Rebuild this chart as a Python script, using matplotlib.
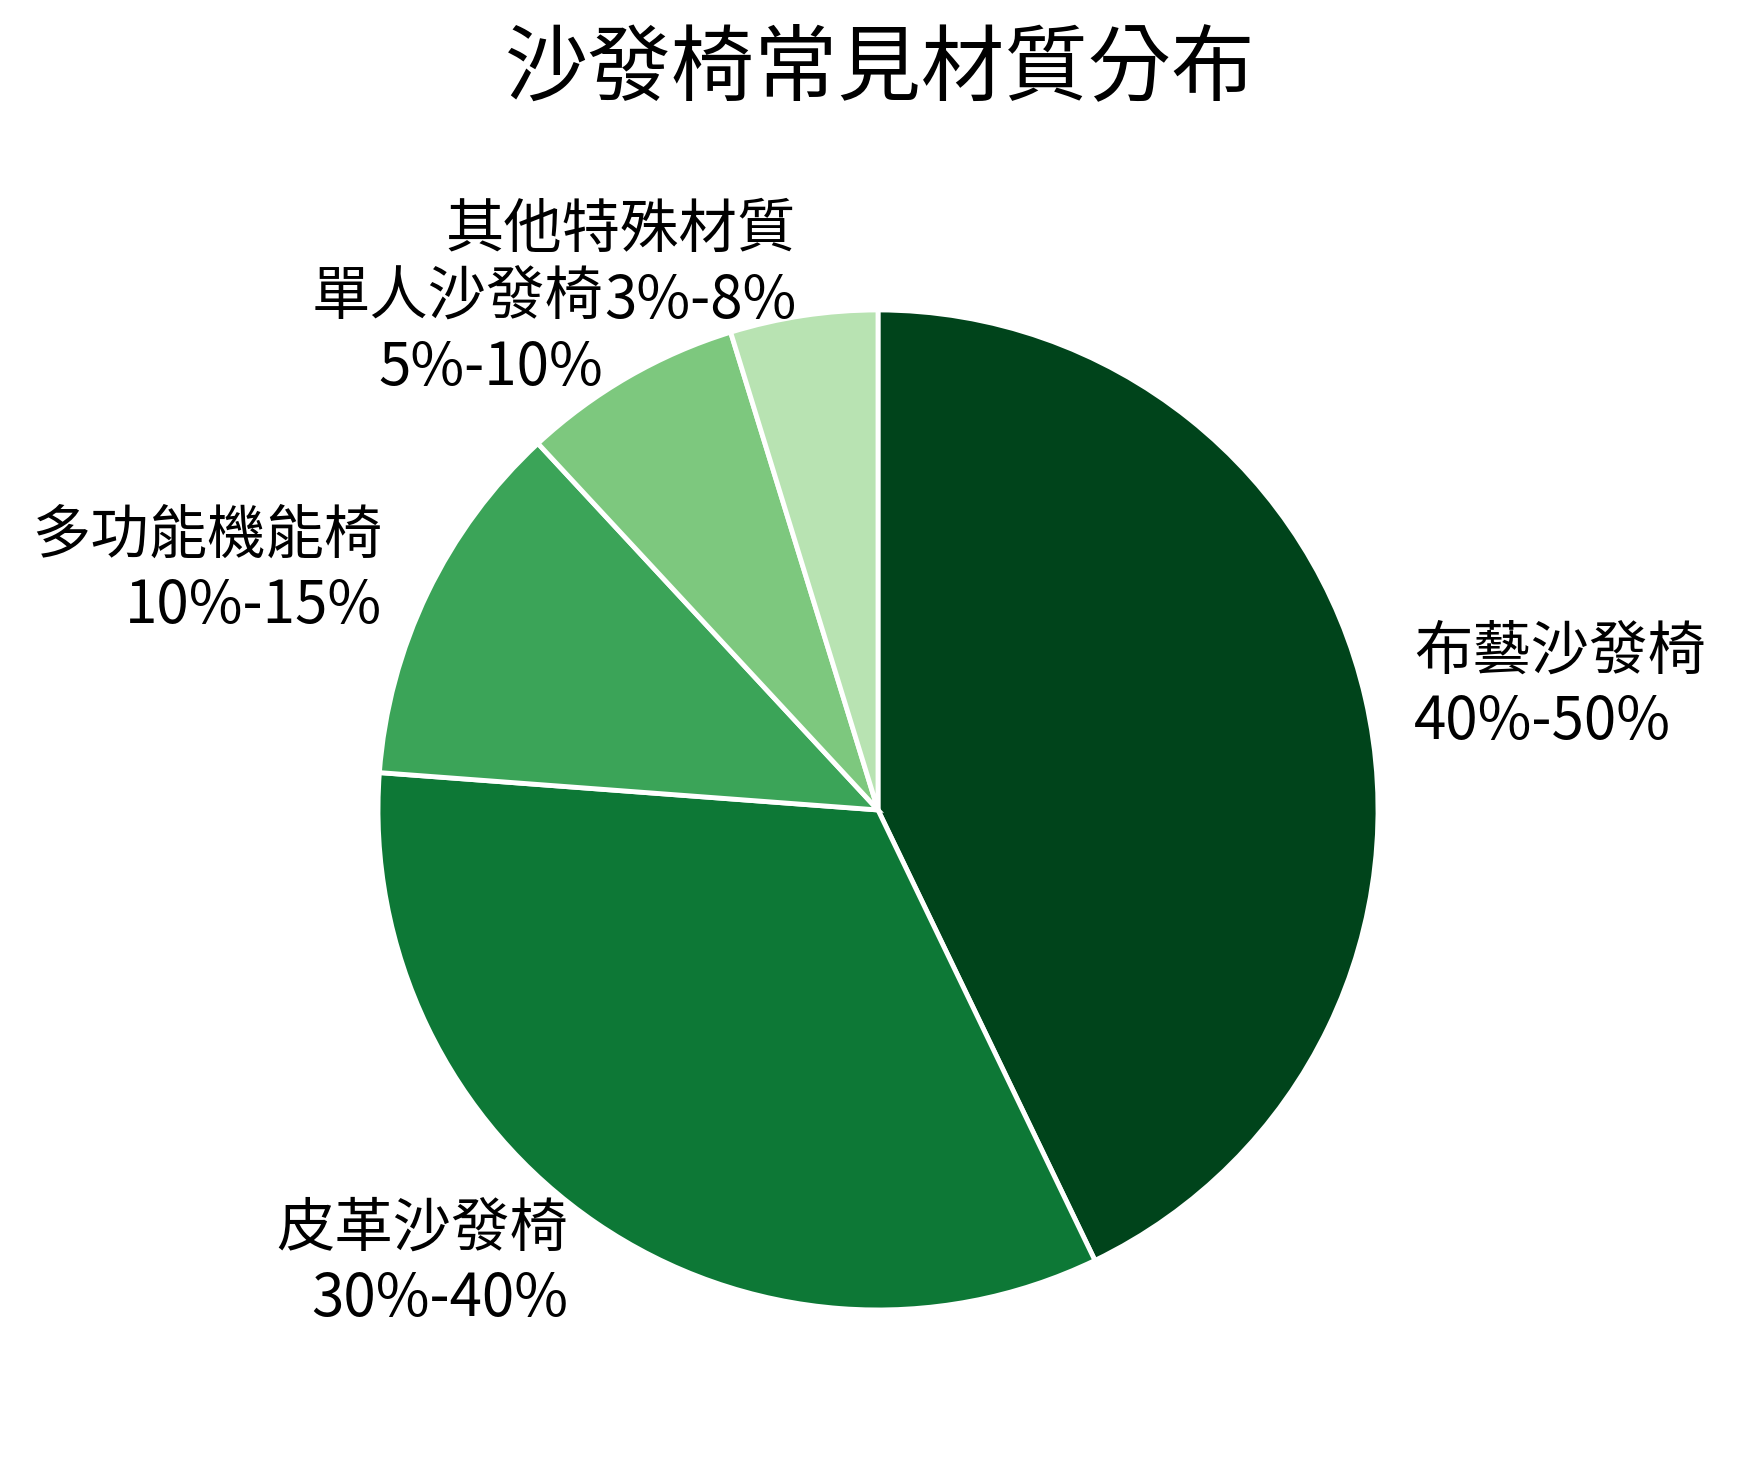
import numpy as np
import matplotlib
matplotlib.use("Agg")
import matplotlib.pyplot as plt

plt.rcParams['font.family'] = ['Noto Sans CJK TC', 'DejaVu Sans']

materials = ['布藝沙發椅', '皮革沙發椅', '多功能機能椅', '單人沙發椅', '其他特殊材質']
ranges = ['40%-50%', '30%-40%', '10%-15%', '5%-10%', '3%-8%']
shares = [45, 35, 12.5, 7.5, 5]

labels = [f'{m}\n{r}' for m, r in zip(materials, ranges)]
colors = plt.cm.Greens(np.linspace(1.0, 0.3, len(shares)))

fig = plt.figure(figsize=(17.4, 14.68), dpi=100)
ax = fig.add_axes([0.1454, 0.0225, 0.7184, 0.8515])

ax.pie(
    shares,
    labels=labels,
    colors=colors,
    startangle=90,
    counterclock=False,
    labeldistance=1.1,
    wedgeprops=dict(edgecolor='white', linewidth=3.5),
    textprops=dict(fontsize=42),
)
ax.set_xlim(-1.25, 1.25)
ax.set_ylim(-1.25, 1.25)
ax.set_aspect('equal')

fig.text(0.506, 1 - 69 / 1468, '沙發椅常見材質分布', fontsize=60, ha='center', va='center')

fig.savefig('out.png', dpi=100, facecolor='white')
